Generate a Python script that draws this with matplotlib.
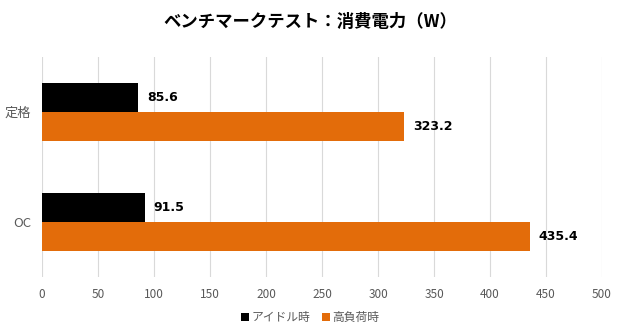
import numpy as np
import matplotlib
matplotlib.use("Agg")
import matplotlib.pyplot as plt

plt.rcParams['font.family'] = ['Noto Sans CJK JP', 'DejaVu Sans']

categories = ['定格', 'OC']
idle = [85.6, 91.5]
load = [323.2, 435.4]
series_names = ['アイドル時', '高負荷時']
colors = ['#000000', '#E36C0A']
xticks = [0, 50, 100, 150, 200, 250, 300, 350, 400, 450, 500]

fig = plt.figure(figsize=(6.2, 3.35), dpi=100)
ax = fig.add_axes([0.068, 0.173, 0.903, 0.657])

y = np.arange(len(categories))
h = 0.265
ax.barh(y - h / 2, idle, height=h, color=colors[0], label=series_names[0], zorder=3)
ax.barh(y + h / 2, load, height=h, color=colors[1], label=series_names[1], zorder=3)

# 数値ラベル
for yi, v in zip(list(y - h / 2) + list(y + h / 2), idle + load):
    ax.text(v + 8, yi, f'{v:.1f}', va='center', ha='left', fontsize=9,
            fontweight='bold', color='#000000', family='DejaVu Sans')

ax.set_xlim(0, 500)
ax.set_ylim(1.5, -0.5)
ax.set_xticks(xticks)
ax.set_yticks(y)
ax.set_yticklabels(categories)
ax.tick_params(axis='x', length=0, labelsize=8.5, colors='#595959', pad=8)
ax.tick_params(axis='y', length=0, labelsize=9.5, colors='#595959', pad=8)
ax.grid(axis='x', color='#D9D9D9', linewidth=0.8, zorder=0)
for s in ax.spines.values():
    s.set_visible(False)

fig.suptitle('ベンチマークテスト：消費電力（W）', x=0.5, y=0.96, fontsize=12.5,
             fontweight='bold', color='#000000')

fig.legend(loc='lower center', bbox_to_anchor=(0.5, 0.0), ncol=2, frameon=False,
           fontsize=8.5, handlelength=0.7, handleheight=0.7, handletextpad=0.2,
           columnspacing=1.0, labelcolor='#595959')

fig.savefig('out.png', dpi=100, facecolor='white')
